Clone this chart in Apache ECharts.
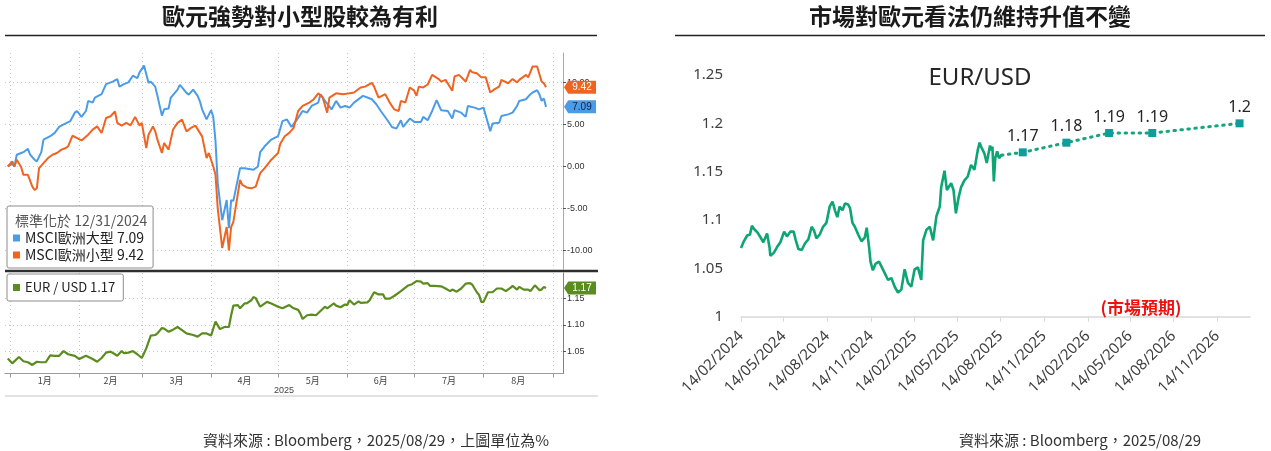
<!DOCTYPE html>
<html lang="zh-Hant">
<head>
<meta charset="UTF-8">
<title>歐元強勢對小型股較為有利</title>
<script src="https://cdn.jsdelivr.net/npm/echarts@6/dist/echarts.min.js"></script>
<style>
    html, body { margin: 0; padding: 0; background: #fff; }
    #main { width: 1271px; height: 451px; }
</style>
</head>
<body>
<div id="main"></div>
<script>
// ---- 左圖：MSCI 歐洲大型 / 小型 (標準化於 12/31/2024，%) ----
const largeCap = [
    ['2024-12-31',0],['2025-01-02',0.3],['2025-01-03',0.0],['2025-01-04',1.4],['2025-01-06',1.6],['2025-01-07',1.7],
    ['2025-01-09',2.1],['2025-01-10',1.4],['2025-01-12',0.8],['2025-01-13',0.6],['2025-01-15',1.7],['2025-01-16',3.2],
    ['2025-01-19',3.6],['2025-01-21',4.0],['2025-01-23',4.7],['2025-01-25',5.0],['2025-01-28',5.4],['2025-01-30',6.4],
    ['2025-01-31',6.6],['2025-02-02',5.9],['2025-02-04',6.6],['2025-02-05',7.8],['2025-02-07',7.6],['2025-02-08',8.2],
    ['2025-02-11',8.6],['2025-02-13',9.8],['2025-02-16',10.1],['2025-02-18',10.4],['2025-02-19',9.5],['2025-02-21',9.8],
    ['2025-02-23',10.0],['2025-02-25',10.8],['2025-02-27',10.5],['2025-02-28',11.2],['2025-03-02',12.0],['2025-03-04',9.95],
    ['2025-03-05',10.1],['2025-03-07',9.5],['2025-03-08',8.4],['2025-03-10',6.05],['2025-03-11',6.8],['2025-03-13',6.9],
    ['2025-03-14',8.2],['2025-03-17',9.15],['2025-03-18',9.7],['2025-03-19',9.4],['2025-03-21',8.75],['2025-03-22',8.55],
    ['2025-03-24',9.15],['2025-03-26',8.4],['2025-03-27',7.75],['2025-03-28',6.8],['2025-03-30',5.6],['2025-04-01',6.7],
    ['2025-04-02',5.9],['2025-04-03',3.0],['2025-04-04',-2.0],['2025-04-06',-6.4],['2025-04-08',-4.0],['2025-04-09',-7.35],
    ['2025-04-10',-4.0],['2025-04-11',-4.1],['2025-04-14',-0.2],['2025-04-16',-0.2],['2025-04-20',-0.4],['2025-04-22',0.0],
    ['2025-04-23',1.7],['2025-04-25',2.4],['2025-04-28',3.2],['2025-05-01',3.6],['2025-05-03',5.4],['2025-05-05',5.6],
    ['2025-05-07',4.7],['2025-05-09',5.4],['2025-05-12',6.6],['2025-05-14',6.4],['2025-05-16',7.2],['2025-05-19',7.6],
    ['2025-05-20',8.6],['2025-05-22',7.8],['2025-05-25',6.8],['2025-05-27',7.8],['2025-05-29',7.0],['2025-05-31',7.2],
    ['2025-06-02',7.0],['2025-06-04',7.6],['2025-06-08',8.4],['2025-06-10',8.2],['2025-06-12',8.0],['2025-06-14',7.4],
    ['2025-06-16',6.6],['2025-06-19',5.5],['2025-06-21',4.7],['2025-06-23',4.5],['2025-06-25',5.5],['2025-06-26',4.7],
    ['2025-06-29',5.7],['2025-07-01',5.3],['2025-07-04',5.3],['2025-07-05',5.9],['2025-07-07',5.5],['2025-07-09',6.6],
    ['2025-07-11',7.9],['2025-07-13',6.7],['2025-07-16',6.6],['2025-07-18',5.7],['2025-07-19',6.7],['2025-07-22',6.4],
    ['2025-07-24',5.9],['2025-07-25',7.2],['2025-07-28',7.0],['2025-07-30',6.8],['2025-08-01',7.0],['2025-08-04',4.2],
    ['2025-08-05',5.1],['2025-08-08',5.2],['2025-08-09',6.0],['2025-08-12',6.2],['2025-08-14',6.4],['2025-08-16',7.2],
    ['2025-08-17',7.8],['2025-08-20',8.0],['2025-08-22',8.6],['2025-08-23',8.8],['2025-08-25',9.07],['2025-08-26',8.6],
    ['2025-08-27',7.8],['2025-08-28',8.1],['2025-08-29',7.09]
];
const smallCap = [
    ['2024-12-31',0],['2025-01-02',0.6],['2025-01-03',0.0],['2025-01-04',0.8],['2025-01-06',-0.1],['2025-01-07',-1.0],
    ['2025-01-09',-1.0],['2025-01-11',-2.4],['2025-01-12',-2.8],['2025-01-13',-2.6],['2025-01-14',-0.2],['2025-01-16',0.4],
    ['2025-01-18',1.0],['2025-01-20',1.4],['2025-01-22',1.6],['2025-01-24',2.0],['2025-01-26',2.2],['2025-01-27',2.4],
    ['2025-01-29',3.66],['2025-01-31',3.38],['2025-02-02',3.1],['2025-02-05',3.78],['2025-02-07',4.38],['2025-02-09',4.77],
    ['2025-02-11',3.98],['2025-02-13',5.77],['2025-02-15',5.97],['2025-02-17',6.56],['2025-02-18',5.18],['2025-02-20',4.86],
    ['2025-02-22',5.2],['2025-02-24',4.9],['2025-02-26',5.9],['2025-02-28',4.86],['2025-03-01',5.18],['2025-03-03',2.19],
    ['2025-03-04',3.78],['2025-03-06',4.77],['2025-03-07',4.18],['2025-03-08',3.19],['2025-03-10',1.6],['2025-03-11',2.79],
    ['2025-03-13',2.0],['2025-03-15',4.4],['2025-03-17',5.18],['2025-03-19',5.57],['2025-03-21',4.18],['2025-03-23',4.58],
    ['2025-03-25',4.86],['2025-03-28',3.58],['2025-03-30',1.0],['2025-03-31',1.6],['2025-04-02',0.0],['2025-04-03',-1.0],
    ['2025-04-04',-5.0],['2025-04-06',-9.7],['2025-04-08',-7.2],['2025-04-09',-10.0],['2025-04-10',-7.2],['2025-04-11',-6.6],
    ['2025-04-14',-1.6],['2025-04-15',-2.2],['2025-04-17',-2.5],['2025-04-19',-2.6],['2025-04-21',-2.4],['2025-04-23',-0.8],
    ['2025-04-25',-0.2],['2025-04-28',0.8],['2025-05-01',1.6],['2025-05-02',2.7],['2025-05-04',3.6],['2025-05-06',4.0],
    ['2025-05-08',4.6],['2025-05-10',6.6],['2025-05-12',7.2],['2025-05-15',7.6],['2025-05-17',8.0],['2025-05-19',8.7],
    ['2025-05-21',8.2],['2025-05-23',6.4],['2025-05-24',8.2],['2025-05-27',8.7],['2025-05-30',8.6],['2025-06-02',8.7],
    ['2025-06-04',8.8],['2025-06-07',9.4],['2025-06-09',9.5],['2025-06-12',9.95],['2025-06-13',9.5],['2025-06-15',8.2],
    ['2025-06-18',8.6],['2025-06-20',7.6],['2025-06-22',6.8],['2025-06-24',6.6],['2025-06-25',7.8],['2025-06-27',7.6],
    ['2025-06-29',9.4],['2025-07-01',9.0],['2025-07-02',8.4],['2025-07-03',9.5],['2025-07-05',9.4],['2025-07-07',9.75],
    ['2025-07-09',10.9],['2025-07-12',10.4],['2025-07-13',10.1],['2025-07-15',10.3],['2025-07-18',9.0],['2025-07-19',10.7],
    ['2025-07-21',10.9],['2025-07-24',10.1],['2025-07-26',11.5],['2025-07-27',11.2],['2025-07-29',11.1],['2025-07-31',10.6],
    ['2025-08-02',10.6],['2025-08-04',8.8],['2025-08-06',9.2],['2025-08-08',9.5],['2025-08-09',10.3],['2025-08-12',9.9],
    ['2025-08-14',10.4],['2025-08-16',10.0],['2025-08-17',10.3],['2025-08-20',10.9],['2025-08-21',10.6],['2025-08-23',11.9],
    ['2025-08-25',11.9],['2025-08-27',10.1],['2025-08-28',9.9],['2025-08-29',9.42]
];
// ---- 左下：EUR / USD ----
const eurShort = [
    ['2024-12-31',1.037],['2025-01-02',1.028],['2025-01-05',1.040],['2025-01-07',1.032],['2025-01-09',1.030],['2025-01-11',1.025],
    ['2025-01-13',1.031],['2025-01-15',1.030],['2025-01-17',1.030],['2025-01-19',1.043],['2025-01-21',1.042],['2025-01-23',1.042],
    ['2025-01-25',1.051],['2025-01-27',1.045],['2025-01-30',1.042],['2025-02-01',1.036],['2025-02-04',1.042],['2025-02-07',1.036],
    ['2025-02-09',1.031],['2025-02-11',1.038],['2025-02-13',1.048],['2025-02-15',1.050],['2025-02-17',1.045],['2025-02-18',1.042],
    ['2025-02-20',1.051],['2025-02-21',1.047],['2025-02-23',1.048],['2025-02-25',1.051],['2025-02-27',1.045],['2025-03-01',1.038],
    ['2025-03-03',1.056],['2025-03-05',1.080],['2025-03-07',1.081],['2025-03-08',1.084],['2025-03-10',1.094],['2025-03-11',1.093],
    ['2025-03-13',1.087],['2025-03-15',1.091],['2025-03-17',1.096],['2025-03-19',1.090],['2025-03-21',1.084],['2025-03-24',1.081],
    ['2025-03-26',1.078],['2025-03-28',1.084],['2025-03-30',1.084],['2025-04-01',1.080],['2025-04-03',1.106],['2025-04-05',1.092],
    ['2025-04-07',1.096],['2025-04-09',1.096],['2025-04-10',1.118],['2025-04-11',1.136],['2025-04-13',1.137],['2025-04-14',1.131],
    ['2025-04-16',1.140],['2025-04-17',1.140],['2025-04-19',1.146],['2025-04-20',1.152],['2025-04-21',1.150],['2025-04-23',1.134],
    ['2025-04-24',1.137],['2025-04-26',1.143],['2025-04-28',1.140],['2025-05-01',1.134],['2025-05-03',1.131],['2025-05-06',1.137],
    ['2025-05-08',1.131],['2025-05-10',1.128],['2025-05-11',1.121],['2025-05-12',1.111],['2025-05-14',1.118],['2025-05-16',1.119],
    ['2025-05-18',1.118],['2025-05-20',1.126],['2025-05-22',1.134],['2025-05-23',1.131],['2025-05-26',1.140],['2025-05-27',1.136],
    ['2025-05-29',1.133],['2025-05-31',1.138],['2025-06-01',1.137],['2025-06-02',1.146],['2025-06-04',1.138],['2025-06-06',1.144],
    ['2025-06-07',1.141],['2025-06-10',1.142],['2025-06-11',1.146],['2025-06-13',1.161],['2025-06-15',1.157],['2025-06-17',1.157],
    ['2025-06-18',1.149],['2025-06-20',1.149],['2025-06-22',1.154],['2025-06-25',1.163],['2025-06-28',1.173],['2025-06-30',1.176],
    ['2025-07-02',1.182],['2025-07-04',1.181],['2025-07-05',1.177],['2025-07-07',1.178],['2025-07-08',1.173],['2025-07-10',1.173],
    ['2025-07-13',1.172],['2025-07-15',1.168],['2025-07-17',1.163],['2025-07-18',1.166],['2025-07-20',1.162],['2025-07-22',1.168],
    ['2025-07-24',1.177],['2025-07-26',1.178],['2025-07-27',1.175],['2025-07-29',1.161],['2025-07-30',1.156],['2025-07-31',1.143],
    ['2025-08-01',1.143],['2025-08-03',1.161],['2025-08-05',1.161],['2025-08-07',1.168],['2025-08-09',1.168],['2025-08-11',1.163],
    ['2025-08-13',1.169],['2025-08-14',1.173],['2025-08-16',1.166],['2025-08-17',1.171],['2025-08-19',1.166],['2025-08-21',1.166],
    ['2025-08-22',1.163],['2025-08-24',1.174],['2025-08-26',1.165],['2025-08-27',1.166],['2025-08-28',1.171],['2025-08-29',1.169]
];
const leftMonthStarts = ['2025-01-01','2025-02-01','2025-03-01','2025-04-01','2025-05-01','2025-06-01','2025-07-01','2025-08-01','2025-09-01'];
const leftPctTicks = [-10, -5, 0, 5, 10];
const leftFxTicks = [1.05, 1.10, 1.15];

// ---- 右圖：EUR/USD 歷史與市場預期 ----
const eurLong = [
    ['2024-02-14',1.071],['2024-02-20',1.078],['2024-02-27',1.084],['2024-03-04',1.085],['2024-03-08',1.094],['2024-03-12',1.091],
    ['2024-03-15',1.092],['2024-03-20',1.087],['2024-03-25',1.083],['2024-04-01',1.077],['2024-04-04',1.076],['2024-04-09',1.086],
    ['2024-04-14',1.072],['2024-04-16',1.063],['2024-04-23',1.066],['2024-04-30',1.072],['2024-05-07',1.077],['2024-05-15',1.088],
    ['2024-05-21',1.083],['2024-05-28',1.088],['2024-06-04',1.088],['2024-06-08',1.080],['2024-06-14',1.070],['2024-06-21',1.069],
    ['2024-06-28',1.076],['2024-07-05',1.080],['2024-07-12',1.093],['2024-07-17',1.089],['2024-07-22',1.081],['2024-07-29',1.085],
    ['2024-08-05',1.093],['2024-08-12',1.097],['2024-08-19',1.114],['2024-08-25',1.119],['2024-08-30',1.110],['2024-09-04',1.103],
    ['2024-09-09',1.114],['2024-09-15',1.110],['2024-09-20',1.117],['2024-09-27',1.116],['2024-10-01',1.112],['2024-10-06',1.097],
    ['2024-10-11',1.093],['2024-10-18',1.085],['2024-10-25',1.078],['2024-11-01',1.082],['2024-11-05',1.092],['2024-11-10',1.072],
    ['2024-11-13',1.057],['2024-11-18',1.048],['2024-11-24',1.055],['2024-12-01',1.057],['2024-12-06',1.052],['2024-12-13',1.045],
    ['2024-12-20',1.038],['2024-12-27',1.040],['2025-01-03',1.031],['2025-01-10',1.025],['2025-01-17',1.028],['2025-01-24',1.049],
    ['2025-01-31',1.035],['2025-02-07',1.031],['2025-02-14',1.049],['2025-02-21',1.051],['2025-02-28',1.038],['2025-03-04',1.079],
    ['2025-03-11',1.090],['2025-03-18',1.093],['2025-03-25',1.079],['2025-04-01',1.104],['2025-04-08',1.114],['2025-04-11',1.134],
    ['2025-04-18',1.151],['2025-04-23',1.131],['2025-05-02',1.138],['2025-05-07',1.131],['2025-05-12',1.107],['2025-05-18',1.124],
    ['2025-05-23',1.134],['2025-05-30',1.141],['2025-06-06',1.145],['2025-06-13',1.157],['2025-06-20',1.152],['2025-06-27',1.172],
    ['2025-07-01',1.180],['2025-07-04',1.176],['2025-07-11',1.169],['2025-07-16',1.159],['2025-07-23',1.177],['2025-07-26',1.172],
    ['2025-07-28',1.176],['2025-07-31',1.140],['2025-08-03',1.164],['2025-08-07',1.171],['2025-08-11',1.164],['2025-08-16',1.167]
];
const fcDates = ['2025-09-30','2025-12-31','2026-03-31','2026-06-30','2026-12-31'];
const fcValues = [1.17, 1.18, 1.19, 1.19, 1.20];
const rightTicks = ['2024-02-14','2024-05-14','2024-08-14','2024-11-14','2025-02-14','2025-05-14',
                    '2025-08-14','2025-11-14','2026-02-14','2026-05-14','2026-08-14','2026-11-14'];

const BLUE = '#4b9ce8', ORANGE = '#f06421', GREEN = '#5b8c1f';
const FX_GREEN = '#0ea574', FC_TEAL = '#0f9d9b';
const CJK = '"Noto Sans CJK TC", "Noto Sans", sans-serif';

// 日期字串 -> 時間戳 (x 軸用數值軸承載時間)
const ts = s => {
    const p = s.split(/[- :]/).map(Number);
    return new Date(p[0], p[1] - 1, p[2], p[3] || 0, p[4] || 0).getTime();
};
const toXY = arr => arr.map(d => [ts(d[0]), d[1]]);
const last = arr => arr[arr.length - 1][1];
const pad = n => (n < 10 ? '0' : '') + n;

const leftMin = ts('2024-12-29 18:00'), leftMax = ts('2025-09-05 14:00');
const monthTicks = leftMonthStarts.map(ts);
const monthMids = monthTicks.slice(0, -1).map((v, i) => (v + monthTicks[i + 1]) / 2);
const rightTickTs = rightTicks.map(ts);

// Bloomberg 風格的右側數值標籤
function tag(value, fill, textColor) {
    return {
        silent: true,
        symbol: 'path://M0,5 L4,0 L30,0 L30,10 L4,10 Z',
        symbolSize: [32, 13],
        symbolKeepAspect: false,
        symbolOffset: [17, 0],
        itemStyle: { color: fill },
        label: {
            show: true, position: 'inside', offset: [2, 0],
            color: textColor, fontSize: 10, fontFamily: 'Liberation Sans',
            formatter: () => value.toFixed(2)
        },
        data: [{ coord: [leftMax, value] }]
    };
}

const dottedSplit = { show: true, lineStyle: { color: '#c6c6c6', type: [1, 3], width: 1 } };
const sideLabel = { fontSize: 9, color: '#333', fontFamily: 'Liberation Sans', margin: 4 };

const fcData = [{ value: [ts(eurLong[eurLong.length - 1][0]), last(eurLong)], symbol: 'none', label: { show: false } }]
    .concat(fcDates.map((d, i) => [ts(d), fcValues[i]]));

const chart = echarts.init(document.getElementById('main'));
chart.setOption({
    animation: false,
    textStyle: { fontFamily: CJK },
    grid: [
        { left: 5, right: 708, top: 53, height: 216 },
        { left: 5, right: 708, top: 273, height: 100.5 },
        { left: 741, right: 21, top: 75, height: 241.7 }
    ],
    xAxis: [
        {
            type: 'value', gridIndex: 0, min: leftMin, max: leftMax,
            axisLine: { show: false }, axisLabel: { show: false },
            axisTick: { show: false, customValues: monthTicks },
            splitLine: dottedSplit
        },
        {
            type: 'value', gridIndex: 1, min: leftMin, max: leftMax,
            axisLine: { onZero: false, lineStyle: { color: '#9a9a9a' } },
            axisTick: { show: true, length: 4, customValues: monthTicks, lineStyle: { color: '#9a9a9a' } },
            axisLabel: {
                customValues: monthMids, fontSize: 9, color: '#444', margin: 3,
                formatter: v => (new Date(v).getMonth() + 1) + '月'
            },
            splitLine: dottedSplit,
            name: '2025', nameLocation: 'middle', nameGap: 13,
            nameTextStyle: { fontSize: 9, color: '#444', fontFamily: 'Liberation Sans' }
        },
        {
            type: 'value', gridIndex: 2, min: ts('2024-02-14'), max: ts('2027-01-22'),
            axisLine: { onZero: false, lineStyle: { color: '#d9d9d9', width: 1.5 } },
            axisTick: { show: true, length: 5, customValues: rightTickTs, lineStyle: { color: '#d9d9d9' } },
            axisLabel: {
                customValues: rightTickTs, rotate: 45, fontSize: 15, color: '#404040',
                fontFamily: '"Noto Sans", sans-serif', margin: 17,
                formatter: v => { const d = new Date(v); return pad(d.getDate()) + '/' + pad(d.getMonth() + 1) + '/' + d.getFullYear(); }
            },
            splitLine: { show: false }
        }
    ],
    yAxis: [
        {
            type: 'value', gridIndex: 0, position: 'right', min: -12.2, max: 13.5,
            axisLine: { show: true, lineStyle: { color: '#7db3ea' } },
            axisTick: { show: true, length: 3, customValues: leftPctTicks, lineStyle: { color: '#555' } },
            axisLabel: Object.assign({ customValues: leftPctTicks, formatter: v => v.toFixed(2) }, sideLabel),
            splitLine: dottedSplit
        },
        {
            type: 'value', gridIndex: 1, position: 'right', min: 1.009, max: 1.197,
            axisLine: { show: true, lineStyle: { color: '#6c9a2e' } },
            axisTick: { show: true, length: 3, customValues: leftFxTicks, lineStyle: { color: '#555' } },
            axisLabel: Object.assign({ customValues: leftFxTicks, formatter: v => v.toFixed(2) }, sideLabel),
            splitLine: dottedSplit
        },
        {
            type: 'value', gridIndex: 2, min: 1, max: 1.25, interval: 0.05,
            axisLine: { show: false }, axisTick: { show: false },
            axisLabel: {
                fontSize: 15, color: '#404040', margin: 18, fontFamily: '"Noto Sans", sans-serif',
                formatter: v => String(+v.toFixed(2))
            },
            splitLine: { show: false }
        }
    ],
    legend: [
        {
            data: ['MSCI歐洲大型', 'MSCI歐洲小型'], left: 7, top: 206, orient: 'vertical',
            padding: [25, 9, 6, 6], itemGap: 3, itemWidth: 7, itemHeight: 7, icon: 'rect',
            backgroundColor: '#fff', borderColor: '#8c8c8c', borderWidth: 1, borderRadius: 2,
            selectedMode: false, textStyle: { fontSize: 14, color: '#222' },
            formatter: n => n + ' ' + (n === 'MSCI歐洲大型' ? last(largeCap) : last(smallCap)).toFixed(2)
        },
        {
            data: ['EUR / USD'], left: 7, top: 274,
            padding: [7, 8, 7, 6], itemWidth: 7, itemHeight: 7, icon: 'rect',
            backgroundColor: '#fff', borderColor: '#8c8c8c', borderWidth: 1, borderRadius: 2,
            selectedMode: false, textStyle: { fontSize: 13, color: '#222' },
            formatter: n => n + ' ' + last(eurShort).toFixed(2)
        }
    ],
    series: [
        {
            name: 'MSCI歐洲大型', type: 'line', xAxisIndex: 0, yAxisIndex: 0, data: toXY(largeCap),
            symbol: 'none', lineStyle: { color: BLUE, width: 2 }, itemStyle: { color: BLUE },
            markPoint: tag(last(largeCap), BLUE, '#0d2240')
        },
        {
            name: 'MSCI歐洲小型', type: 'line', xAxisIndex: 0, yAxisIndex: 0, data: toXY(smallCap),
            symbol: 'none', lineStyle: { color: ORANGE, width: 2 }, itemStyle: { color: ORANGE },
            markPoint: tag(last(smallCap), ORANGE, '#fff')
        },
        {
            name: 'EUR / USD', type: 'line', xAxisIndex: 1, yAxisIndex: 1, data: toXY(eurShort),
            symbol: 'none', lineStyle: { color: GREEN, width: 2.2 }, itemStyle: { color: GREEN },
            markPoint: tag(last(eurShort), GREEN, '#fff')
        },
        {
            name: 'EUR/USD', type: 'line', xAxisIndex: 2, yAxisIndex: 2, data: toXY(eurLong),
            symbol: 'none', lineStyle: { color: FX_GREEN, width: 2.6 }
        },
        {
            name: '市場預期', type: 'line', xAxisIndex: 2, yAxisIndex: 2, data: fcData,
            symbol: 'rect', symbolSize: 8, showAllSymbol: true,
            itemStyle: { color: FC_TEAL },
            lineStyle: { color: '#17a47a', width: 3, type: [1.5, 5.5], cap: 'round' },
            label: {
                show: true, position: 'top', distance: 4, fontSize: 16, color: '#262626',
                fontFamily: '"Noto Sans", sans-serif',
                formatter: p => String(p.value[1])
            }
        }
    ],
    graphic: [
        { type: 'text', x: 300, y: 16, z: 100, style: { text: '歐元強勢對小型股較為有利', fill: '#1a1a1a', fontSize: 23, fontWeight: 'bold', fontFamily: CJK, align: 'center', verticalAlign: 'middle' } },
        { type: 'line', z: 100, shape: { x1: 5, y1: 35.5, x2: 597, y2: 35.5 }, style: { stroke: '#222', lineWidth: 1.3 } },
        { type: 'text', x: 970, y: 16, z: 100, style: { text: '市場對歐元看法仍維持升值不變', fill: '#1a1a1a', fontSize: 23, fontWeight: 'bold', fontFamily: CJK, align: 'center', verticalAlign: 'middle' } },
        { type: 'line', z: 100, shape: { x1: 675, y1: 35.5, x2: 1265, y2: 35.5 }, style: { stroke: '#222', lineWidth: 1.3 } },
        { type: 'line', z: 100, shape: { x1: 5, y1: 271, x2: 598, y2: 271 }, style: { stroke: '#2e2e2e', lineWidth: 2.5 } },
        { type: 'line', z: 100, shape: { x1: 5, y1: 396, x2: 598, y2: 396 }, style: { stroke: '#e2e2e2', lineWidth: 2 } },
        { type: 'text', x: 15, y: 221, z: 100, style: { text: '標準化於 12/31/2024', fill: '#555', fontSize: 14, fontFamily: CJK, verticalAlign: 'middle' } },
        { type: 'text', x: 980, y: 78, z: 100, style: { text: 'EUR/USD', fill: '#262626', fontSize: 24, fontFamily: '"Noto Sans", sans-serif', align: 'center', verticalAlign: 'middle' } },
        { type: 'text', x: 1141, y: 308, z: 100, style: { text: '(市場預期)', fill: '#ee1111', fontSize: 17, fontWeight: 'bold', fontFamily: CJK, align: 'center', verticalAlign: 'middle' } },
        { type: 'text', x: 376, y: 440, z: 100, style: { text: '資料來源 : Bloomberg，2025/08/29，上圖單位為%', fill: '#333', fontSize: 15, fontFamily: CJK, align: 'center', verticalAlign: 'middle' } },
        { type: 'text', x: 1080, y: 440, z: 100, style: { text: '資料來源 : Bloomberg，2025/08/29', fill: '#333', fontSize: 15, fontFamily: CJK, align: 'center', verticalAlign: 'middle' } }
    ]
});
</script>
</body>
</html>
